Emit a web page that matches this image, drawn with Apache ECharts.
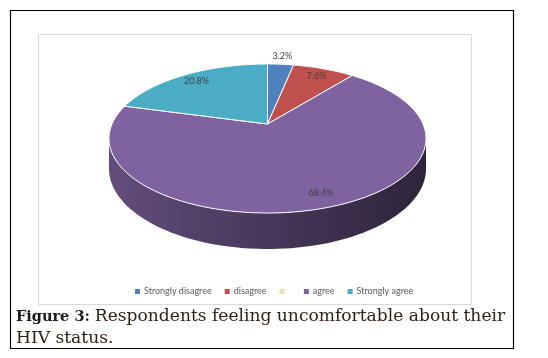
<!DOCTYPE html>
<html>
<head>
<meta charset="utf-8">
<script src="https://cdn.jsdelivr.net/npm/echarts@6/dist/echarts.min.js"></script>
<style>
html, body { margin: 0; padding: 0; background: #fff; }
#main { width: 548px; height: 358px; }
</style>
</head>
<body>
<div id="main"></div>
<script>
// data
var categories = ['Strongly disagree', 'disagree', ' ', 'agree', 'Strongly agree'];
var percentValues = [3.2, 7.6, 0, 68.4, 20.8];
var sliceColors = ['#4F81BD', '#C0504D', '#F2DDB0', '#7F63A1', '#4BACC6'];

// 3d pie projection (tilted disc seen in perspective)
var cx = 267.5, cy = 124, kx = 155.5, ky = 71.7, persp = 0.1946, depth = 29;
var total = percentValues.reduce(function (a, b) { return a + b; }, 0);

function project(f, phi) {
    var u = f * Math.sin(phi), v = -f * Math.cos(phi);
    var w = 1 / (1 - persp * v);
    return [cx + kx * u * w, cy + ky * v * w, w];
}

function shade(hex, k) {
    var n = parseInt(hex.slice(1), 16);
    var r = Math.round(((n >> 16) & 255) * k);
    var g = Math.round(((n >> 8) & 255) * k);
    var b = Math.round((n & 255) * k);
    return 'rgb(' + r + ',' + g + ',' + b + ')';
}

// part of the rim whose side faces the viewer
var phiL = Math.acos(-persp);
var phiR = 2 * Math.PI - phiL;

function arcPoints(a0, a1, f, down) {
    var pts = [];
    var steps = Math.max(2, Math.ceil((a1 - a0) / (Math.PI / 90)));
    for (var s = 0; s <= steps; s++) {
        var p = project(f, a0 + (a1 - a0) * s / steps);
        pts.push([p[0], p[1] + (down ? depth * p[2] : 0)]);
    }
    return pts;
}

function makeRender(idx) {
    return function (params, api) {
        var start = 0;
        for (var j = 0; j < idx; j++) start += percentValues[j];
        var val = api.value(0);
        var a0 = start / total * 2 * Math.PI;
        var a1 = (start + val) / total * 2 * Math.PI;
        var children = [];
        if (a1 - a0 <= 0) return { type: 'group', children: children };
        var color = sliceColors[idx];

        // side wall
        var w0 = Math.max(a0, phiL), w1 = Math.min(a1, phiR);
        if (w1 > w0) {
            var wall = arcPoints(w0, w1, 1, false).concat(arcPoints(w0, w1, 1, true).reverse());
            children.push({
                type: 'polygon',
                z2: 1,
                shape: { points: wall },
                style: {
                    fill: new echarts.graphic.LinearGradient(cx - kx * 1.02, 0, cx + kx * 1.02, 0, [
                        { offset: 0, color: shade(color, 0.78) },
                        { offset: 0.5, color: shade(color, 0.56) },
                        { offset: 1, color: shade(color, 0.36) }
                    ], true),
                    stroke: null
                }
            });
        }

        // top face
        var c = project(0, 0);
        var top = [[c[0], c[1]]].concat(arcPoints(a0, a1, 1, false));
        children.push({
            type: 'polygon',
            z2: 10,
            shape: { points: top },
            style: { fill: color, stroke: '#ffffff', lineWidth: 1 }
        });

        // data label
        var mid = (a0 + a1) / 2;
        var lp = project(val / total < 0.05 ? 1.17 : 0.85, mid);
        children.push({
            type: 'text',
            z2: 20,
            x: lp[0] + (val / total > 0.5 ? 5 : 0),
            y: lp[1],
            style: {
                text: val.toFixed(1) + '%',
                fill: '#404040',
                font: '9px Lato',
                align: 'center',
                verticalAlign: 'middle'
            }
        });
        return { type: 'group', children: children };
    };
}

var series = categories.map(function (name, i) {
    return {
        type: 'custom',
        name: name,
        coordinateSystem: 'none',
        itemStyle: { color: sliceColors[i] },
        data: [[percentValues[i]]],
        renderItem: makeRender(i),
        silent: true,
        animation: false
    };
});

var chart = echarts.init(document.getElementById('main'), null, { renderer: 'canvas' });
chart.setOption({
    backgroundColor: '#ffffff',
    animation: false,
    title: {
        left: 16,
        top: 306,
        padding: 0,
        text: '{b|Figure 3:} {n|Respondents feeling uncomfortable about their}\n{n|HIV status.}',
        textStyle: {
            fontWeight: 'normal',
            rich: {
                b: { fontFamily: 'DejaVu Serif', fontSize: 14.5, fontWeight: 'bold', color: '#1a1a1a', lineHeight: 22 },
                n: { fontFamily: 'DejaVu Serif', fontSize: 17.1, fontWeight: 'normal', color: '#2e2118', lineHeight: 22 }
            }
        }
    },
    legend: {
        left: 130,
        top: 282,
        icon: 'rect',
        itemWidth: 5,
        itemHeight: 5,
        itemGap: 13,
        selectedMode: false,
        data: categories,
        textStyle: { fontFamily: 'Lato', fontSize: 9, color: '#595959', padding: [0, 0, 0, -1] }
    },
    graphic: [
        { type: 'rect', shape: { x: 10.5, y: 10.5, width: 503, height: 338 }, style: { fill: null, stroke: '#000', lineWidth: 1.2 }, silent: true },
        { type: 'rect', shape: { x: 38.5, y: 34.5, width: 433, height: 270 }, style: { fill: null, stroke: '#d9d9d9', lineWidth: 1 }, silent: true }
    ],
    series: series
});
</script>
</body>
</html>
